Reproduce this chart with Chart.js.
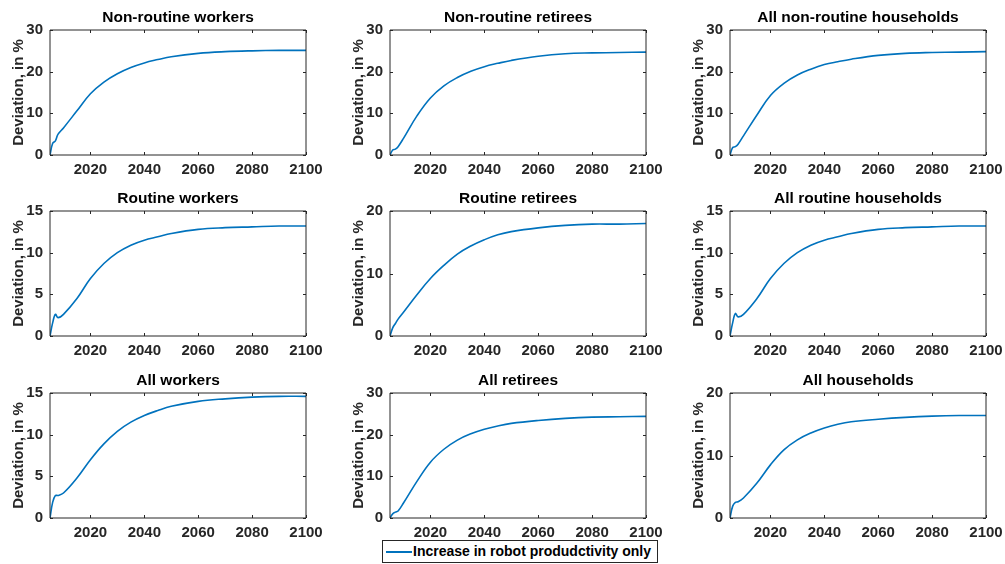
<!DOCTYPE html>
<html>
<head>
<meta charset="utf-8">
<script src="https://cdn.jsdelivr.net/npm/chart.js@4.4.1/dist/chart.umd.min.js"></script>
<style>
  body { margin: 0; background: #fff; overflow: hidden; }
  #wrap { position: relative; width: 1005px; height: 564px; overflow: hidden; }
  #wrap canvas { position: absolute; }
  #legend {
    position: absolute; left: 382px; top: 540px; width: 274px; height: 21px;
    border: 1px solid #262626; background: #fff;
    font: bold 14px "Liberation Sans", Arial, sans-serif; color: #000;
  }
  #legend .swatch { position: absolute; left: 3px; top: 10px; width: 26px; height: 2px; background: #0072BD; }
  #legend .label { position: absolute; left: 30px; top: 0; line-height: 21px; white-space: nowrap; }
</style>
</head>
<body>
<div id="wrap">
  <div id="legend"><span class="swatch"></span><span class="label">Increase in robot produdctivity only</span></div>
</div>
<script>
const years = [2005, 2006, 2007, 2008, 2010, 2015, 2020, 2025, 2030, 2035, 2040, 2045, 2050, 2060, 2070, 2080, 2090, 2100];

const nonRoutineWorkers = [0, 2.8, 3.4, 5.0, 6.5, 10.6, 14.7, 17.5, 19.5, 21.0, 22.1, 22.9, 23.6, 24.4, 24.8, 25.0, 25.1, 25.1];
const nonRoutineRetirees = [0, 1.2, 1.4, 2.0, 4.0, 9.4, 13.7, 16.6, 18.6, 20.1, 21.2, 22.0, 22.7, 23.7, 24.3, 24.5, 24.6, 24.7];
const allNonRoutine = [0, 1.8, 2.0, 2.6, 4.6, 9.6, 14.3, 17.2, 19.2, 20.6, 21.7, 22.4, 23.0, 23.9, 24.4, 24.6, 24.7, 24.8];
const routineWorkers = [0, 1.6, 2.6, 2.2, 2.6, 4.5, 6.9, 8.7, 10.0, 10.9, 11.5, 11.9, 12.3, 12.8, 13.0, 13.1, 13.2, 13.2];
const routineRetirees = [0, 1.3, 2.0, 2.7, 3.8, 6.6, 9.2, 11.3, 13.1, 14.4, 15.4, 16.2, 16.7, 17.3, 17.7, 17.9, 17.9, 18.0];
const allRoutine = [0, 1.6, 2.7, 2.3, 2.6, 4.5, 6.9, 8.7, 10.0, 10.9, 11.5, 11.9, 12.3, 12.8, 13.0, 13.1, 13.2, 13.2];
const allWorkers = [0, 1.9, 2.7, 2.7, 3.0, 4.8, 7.0, 8.9, 10.4, 11.5, 12.3, 12.9, 13.4, 14.0, 14.3, 14.5, 14.6, 14.6];
const allRetirees = [0, 1.0, 1.4, 1.7, 3.6, 8.8, 13.4, 16.5, 18.7, 20.2, 21.3, 22.1, 22.7, 23.4, 23.9, 24.2, 24.3, 24.4];
const allHouseholds = [0, 1.9, 2.5, 2.6, 3.2, 5.6, 8.5, 10.9, 12.5, 13.6, 14.4, 15.0, 15.4, 15.8, 16.1, 16.3, 16.4, 16.4];

const titles = [
  "Non-routine workers", "Non-routine retirees", "All non-routine households",
  "Routine workers", "Routine retirees", "All routine households",
  "All workers", "All retirees", "All households",
];
const series = [
  nonRoutineWorkers, nonRoutineRetirees, allNonRoutine,
  routineWorkers, routineRetirees, allRoutine,
  allWorkers, allRetirees, allHouseholds,
];
const yTicks = [
  [0, 10, 20, 30], [0, 10, 20, 30], [0, 10, 20, 30],
  [0, 5, 10, 15], [0, 10, 20], [0, 5, 10, 15],
  [0, 5, 10, 15], [0, 10, 20, 30], [0, 10, 20],
];
const xTicks = [2020, 2040, 2060, 2080, 2100];
const xMin = 2005;
const xMax = 2100;
const legendLabel = "Increase in robot produdctivity only";

const FONT = "'Liberation Sans', Arial, Helvetica, sans-serif";
const AXIS = "#262626";

// matlab-style box with inward ticks on all four sides
const boxPlugin = {
  id: "box",
  afterDatasetsDraw(chart) {
    const { ctx, chartArea: a, scales } = chart;
    const tl = 3;
    ctx.save();
    ctx.strokeStyle = AXIS;
    ctx.lineWidth = 1;
    ctx.beginPath();
    ctx.rect(a.left, a.top, a.right - a.left, a.bottom - a.top);
    scales.x.ticks.forEach((t) => {
      const px = Math.round(scales.x.getPixelForValue(t.value)) + 0.5;
      ctx.moveTo(px, a.bottom); ctx.lineTo(px, a.bottom - tl);
      ctx.moveTo(px, a.top); ctx.lineTo(px, a.top + tl);
    });
    scales.y.ticks.forEach((t) => {
      const py = Math.round(scales.y.getPixelForValue(t.value)) + 0.5;
      ctx.moveTo(a.left, py); ctx.lineTo(a.left + tl, py);
      ctx.moveTo(a.right, py); ctx.lineTo(a.right - tl, py);
    });
    ctx.stroke();
    ctx.restore();
  },
};

const colLeft = [0, 340, 680];
const rowTop = [0, 181, 363];
const wrap = document.getElementById("wrap");

titles.forEach((title, i) => {
  const canvas = document.createElement("canvas");
  canvas.width = 330;
  canvas.height = 183;
  canvas.style.left = colLeft[i % 3] + "px";
  canvas.style.top = rowTop[Math.floor(i / 3)] + "px";
  canvas.style.width = "330px";
  canvas.style.height = "183px";
  wrap.insertBefore(canvas, document.getElementById("legend"));

  const ticksY = yTicks[i];
  new Chart(canvas.getContext("2d"), {
    type: "line",
    data: {
      datasets: [
        {
          label: legendLabel,
          data: years.map((yr, k) => ({ x: yr, y: series[i][k] })),
          borderColor: "#0072BD",
          borderWidth: 1.6,
          pointRadius: 0,
          tension: 0.4,
          fill: false,
        },
      ],
    },
    options: {
      responsive: false,
      animation: false,
      layout: { padding: { left: 0, right: 24, top: 0, bottom: 0 } },
      plugins: {
        legend: { display: false },
        tooltip: { enabled: false },
        title: {
          display: true,
          text: title,
          fullSize: false,
          color: "#000",
          font: { family: FONT, size: 15.5, weight: "bold", lineHeight: 1.2 },
          padding: { top: 8, bottom: 3.4 },
        },
      },
      scales: {
        x: {
          type: "linear",
          min: xMin,
          max: xMax,
          afterBuildTicks: (s) => { s.ticks = xTicks.map((v) => ({ value: v })); },
          afterFit: (s) => { s.height = 28; },
          grid: { display: false, drawTicks: false },
          border: { display: false },
          ticks: {
            padding: 6,
            color: AXIS,
            maxRotation: 0,
            callback: (v) => String(v),
            font: { family: FONT, size: 15, weight: "bold" },
          },
        },
        y: {
          min: 0,
          max: ticksY[ticksY.length - 1],
          afterBuildTicks: (s) => { s.ticks = ticksY.map((v) => ({ value: v })); },
          afterFit: (s) => { s.width = 50; },
          grid: { display: false, drawTicks: false },
          border: { display: false },
          ticks: {
            padding: 7,
            color: AXIS,
            callback: (v) => String(v),
            font: { family: FONT, size: 15, weight: "bold" },
          },
          title: {
            display: true,
            text: "Deviation, in %",
            color: AXIS,
            font: { family: FONT, size: 15, weight: "bold", lineHeight: 1.2 },
            padding: { top: 10, bottom: 0 },
          },
        },
      },
    },
    plugins: [boxPlugin],
  });
});
</script>
</body>
</html>
